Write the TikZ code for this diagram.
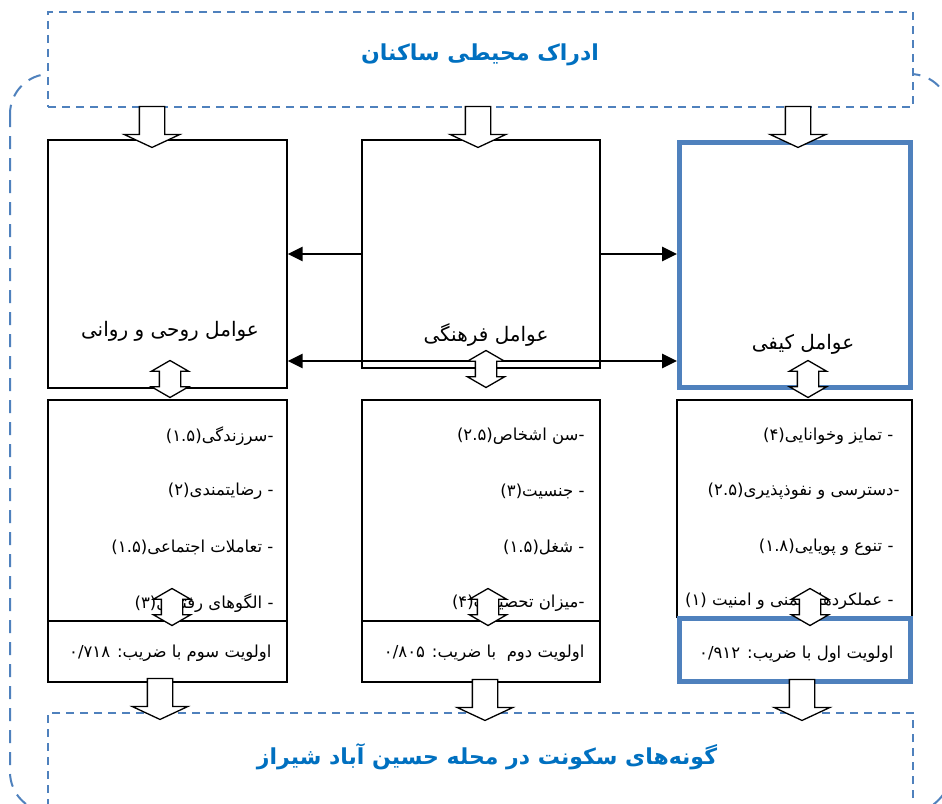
\documentclass[tikz,border=0pt]{standalone}
\usepackage{fontspec}
\newfontfamily\farsi[Script=Arabic]{DejaVu Sans}
\TeXXeTstate=1
\usetikzlibrary{positioning}
\usetikzlibrary{arrows.meta}
\usetikzlibrary{shapes.arrows}
\definecolor{frameblue}{HTML}{4F81BD}
\definecolor{titleblue}{HTML}{0070C0}
\newcommand{\rtltext}[1]{\beginR #1\endR}
\tikzset{
    >={Triangle[length=15pt,width=14pt]},
    factor/.style={
        draw,
        line width=1.2pt,
        inner sep=0pt
    },
    mainfactor/.style={
        draw=frameblue,
        line width=5pt,
        inner sep=0pt
    },
    frame/.style={
        draw=frameblue,
        line width=2pt,
        dash pattern=on 8pt off 6pt,
        fill=white
    },
    title/.style={
        text=titleblue,
        font=\farsi\bfseries\fontsize{22}{26}\selectfont
    },
    head/.style={
        font=\farsi\fontsize{20}{24}\selectfont
    },
    item/.style={
        anchor=east,
        font=\farsi\fontsize{16.5}{20}\selectfont
    },
    link/.style={
        ->,
        line width=2.8pt
    },
    down/.style={
        single arrow,
        draw,
        fill=white,
        line width=1.3pt,
        shape border rotate=270,
        minimum height=41pt,
        inner sep=12pt,
        single arrow head extend=15pt,
        single arrow tip angle=130,
        single arrow head indent=0pt
    },
    both/.style={
        double arrow,
        draw,
        fill=white,
        line width=1.3pt,
        shape border rotate=90,
        minimum height=37pt,
        inner sep=10pt,
        double arrow head extend=8pt,
        double arrow tip angle=120,
        double arrow head indent=0pt
    }
}

\begin{document}
\begin{tikzpicture}[x=1pt, y=-1pt]
                \useasboundingbox (0,0) rectangle (942,803);
                % outer frame
                \draw[frameblue, line width=2pt, dash pattern=on 13pt off 9pt, rounded corners=40pt] (10,74) rectangle (950,812);
                \node[frame, minimum width=865pt, minimum height=95pt] (perception) at (480.5,59.5) {};
                \node[title] (perceptiontext) at (480,55) {\rtltext{ادراک محیطی ساکنان}};
                \node[frame, minimum width=865pt, minimum height=102pt] (types) at (480.5,764) {};
                \node[title] (typestext) at (487,757) {\rtltext{گونه‌های سکونت در محله حسین آباد شیراز}};

                % factor boxes
                \node[factor, minimum width=239pt, minimum height=248pt] (ravani) at (167.5,264) {};
                \node[factor, minimum width=238pt, minimum height=228pt] (farhangi) at (481,254) {};
                \node[mainfactor, minimum width=231pt, minimum height=245pt] (keyfi) at (795,265) {};
                \node[head] (ravanitext) at (170,331) {\rtltext{عوامل روحی و روانی}};
                \node[head] (farhangitext) at (486,335) {\rtltext{عوامل فرهنگی}};
                \node[head] (keyfitext) at (803,344) {\rtltext{عوامل کیفی}};

                % item boxes
                \node[factor, minimum width=239pt, minimum height=221pt] (ravaniitems) at (167.5,510.5) {};
                \node[factor, minimum width=239pt, minimum height=61pt] (ravanirank) at (167.5,651.5) {};
                \node[factor, minimum width=238pt, minimum height=221pt] (farhangiitems) at (481,510.5) {};
                \node[factor, minimum width=238pt, minimum height=61pt] (farhangirank) at (481,651.5) {};
                \node[factor, minimum width=235pt, minimum height=217pt] (keyfiitems) at (794.5,508.5) {};
                \node[mainfactor, minimum width=231pt, minimum height=63pt] (keyfirank) at (795,650) {};

                \node[item] (r1) at (277,436) {\rtltext{-سرزندگی(۱.۵)}};
                \node[item] (r2) at (277,491) {\rtltext{- رضایتمندی(۲)}};
                \node[item] (r3) at (277,547) {\rtltext{- تعاملات اجتماعی(۱.۵)}};
                \node[item] (r4) at (277,603) {\rtltext{- الگوهای رفتاری(۳)}};
                \node[item] (rr) at (275,653) {\rtltext{اولویت سوم با ضریب: ۰/۷۱۸}};

                \node[item] (f1) at (588,436) {\rtltext{-سن اشخاص(۲.۵)}};
                \node[item] (f2) at (588,491) {\rtltext{- جنسیت(۳)}};
                \node[item] (f3) at (588,547) {\rtltext{- شغل(۱.۵)}};
                \node[item] (f4) at (588,603) {\rtltext{-میزان تحصیلات(۴)}};
                \node[item] (fr) at (588,653) {\rtltext{اولویت دوم\ \ با ضریب: ۰/۸۰۵}};

                \node[item] (k1) at (897,436) {\rtltext{- تمایز وخوانایی(۴)}};
                \node[item] (k2) at (903,491) {\rtltext{-دسترسی و نفوذپذیری(۲.۵)}};
                \node[item] (k3) at (897,547) {\rtltext{- تنوع و پویایی(۱.۸)}};
                \node[item] (k4) at (897,601) {\rtltext{- عملکردها، ایمنی و امنیت (۱)}};
                \node[item] (kr) at (897,654) {\rtltext{اولویت اول با ضریب: ۰/۹۱۲}};

                % links between factors
                \draw[link] (farhangi.west) -- (farhangi.west -| ravani.east);
                \draw[link] (farhangi.east) -- (farhangi.east -| keyfi.west);
                \draw[link, <->] (ravani.east |- 0,361) -- (keyfi.west |- 0,361);

                % block arrows
                \node[down] (in1) at (152,124) {};
                \node[down] (in2) at (478,124) {};
                \node[down] (in3) at (798,124) {};
                \node[both] (ravanilink) at (170,379) {};
                \node[both] (farhangilink) at (486,369) {};
                \node[both] (keyfilink) at (808,379) {};
                \node[both] (ravanisum) at (172,607) {};
                \node[both] (farhangisum) at (488,607) {};
                \node[both] (keyfisum) at (810,607) {};
                \node[down] (out1) at (160,696) {};
                \node[down] (out2) at (485,697) {};
                \node[down] (out3) at (802,697) {};
            \end{tikzpicture}
\end{document}
